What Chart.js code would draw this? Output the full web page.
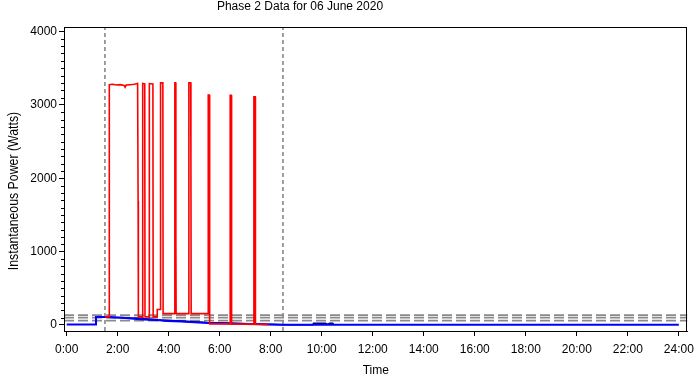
<!DOCTYPE html>
<html>
<head>
<meta charset="utf-8">
<script src="https://cdn.jsdelivr.net/npm/chart.js@4/dist/chart.umd.min.js"></script>
<style>
  html, body { margin: 0; padding: 0; background: #fff; }
  #wrap { width: 700px; height: 381px; }
</style>
</head>
<body>
<div id="wrap"><canvas id="powerChart"></canvas></div>
<script>
// time is in decimal hours, power in watts
const chartTitle = 'Phase 2 Data for 06 June 2020';
const xTicks = [0, 2, 4, 6, 8, 10, 12, 14, 16, 18, 20, 22, 24];
const yTicks = [0, 1000, 2000, 3000, 4000];

const redHours = [1.50, 1.67, 1.67, 1.80, 1.95, 2.10, 2.25, 2.29, 2.33, 2.50, 2.65, 2.78, 2.80, 2.81,
  2.98, 2.98, 3.06, 3.07, 3.24, 3.24, 3.38, 3.39, 3.55, 3.55, 3.68, 3.68, 3.77, 3.78,
  4.24, 4.24, 4.27, 4.28, 4.29, 4.79, 4.79, 4.86, 4.87, 4.88, 5.55, 5.55, 5.59, 5.60, 5.61,
  6.41, 6.41, 6.45, 6.46, 6.47, 7.34, 7.34, 7.39, 7.40, 7.92];
const redWatts = [110, 110, 3275, 3280, 3270, 3275, 3265, 3240, 3270, 3275, 3280, 3290, 1690, 110,
  110, 3290, 3285, 110, 110, 3290, 3285, 110, 110, 210, 210, 3300, 3300, 155,
  155, 3300, 3300, 1190, 155, 155, 3300, 3300, 2240, 155, 155, 3135, 3135, 850, 15,
  15, 3130, 3130, 2330, 12, 12, 3110, 3110, 10, 8];

const blueHours = [0, 1.15, 1.15, 1.60, 2.20, 2.74, 3.20, 3.65, 3.93, 4.50, 5.00, 5.53, 6.20, 7.00, 7.57, 8.10, 8.47, 24];
const blueWatts = [5, 5, 110, 108, 100, 80, 72, 64, 55, 48, 38, 27, 22, 15, 10, 6, 4, 4];

const navyHours = [1.50, 2.80, 3.70, 4.50, 5.50, 6.50, 7.50, 8.50, 9.65, 9.68, 10.15, 10.20, 10.25, 10.30, 10.43, 10.46];
const navyWatts = [106, 92, 66, 52, 33, 24, 12, 4, 4, 24, 24, 12, 10, 24, 24, 4];

const refLevels = [135, 100, 60];
const markHours = [1.50, 8.48];

const xMin = -0.106, xMax = 24.34;
const yMin = -82, yMax = 4061;

const font = "'Liberation Sans', Arial, sans-serif";

const toPoints = (xs, ys) => xs.map((x, i) => ({ x: x, y: ys[i] }));

const datasets = [
  { label: 'red', data: toPoints(redHours, redWatts), borderColor: '#ff0000', borderWidth: 1.6 },
  { label: 'blue', data: toPoints(blueHours, blueWatts), borderColor: '#0000ff', borderWidth: 2 },
  { label: 'navy', data: toPoints(navyHours, navyWatts), borderColor: '#000070', borderWidth: 1.6 }
];
refLevels.forEach(level => {
  datasets.push({
    label: 'ref ' + level,
    data: [{ x: xMin, y: level }, { x: xMax, y: level }],
    borderColor: '#8a8a8a', borderWidth: 1.6, borderDash: [10, 4]
  });
});
markHours.forEach(h => {
  datasets.push({
    label: 'mark ' + h,
    data: [{ x: h, y: yMin }, { x: h, y: yMax }],
    borderColor: '#404040', borderWidth: 1, borderDash: [4, 3]
  });
});
datasets.forEach(d => { d.pointRadius = 0; d.tension = 0; d.fill = false; });

// frame, minor y ticks and the text labels
const extras = {
  id: 'extras',
  afterDraw(chart) {
    const ctx = chart.ctx;
    const a = chart.chartArea;
    const y = chart.scales.y;
    ctx.save();
    ctx.strokeStyle = '#000';
    ctx.lineWidth = 1;
    ctx.strokeRect(Math.round(a.left) + 0.5, Math.round(a.top) + 0.5,
      Math.round(a.right - a.left) - 1, Math.round(a.bottom - a.top));
    ctx.beginPath();
    for (let v = 0; v <= 4000; v += 100) {
      if (v % 1000 === 0) continue;
      const py = Math.round(y.getPixelForValue(v)) + 0.5;
      ctx.moveTo(a.left - 3, py);
      ctx.lineTo(a.left, py);
    }
    ctx.stroke();

    ctx.fillStyle = '#000';
    ctx.textAlign = 'center';
    ctx.textBaseline = 'middle';
    ctx.font = '12px ' + font;
    ctx.fillText(chartTitle, 300, 7);

    ctx.translate(14, 191);
    ctx.rotate(-Math.PI / 2);
    ctx.scale(0.88, 1);
    ctx.font = '14px ' + font;
    ctx.fillText('Instantaneous Power (Watts)', 0, 0);
    ctx.restore();
  }
};

const ctx = document.getElementById('powerChart').getContext('2d');
const powerChart = new Chart(ctx, {
  type: 'line',
  data: { datasets: datasets },
  options: {
    responsive: true,
    maintainAspectRatio: false,
    devicePixelRatio: 1,
    animation: false,
    layout: { padding: { top: 27, right: 12, left: 0, bottom: 0 } },
    plugins: { legend: { display: false }, tooltip: { enabled: false } },
    scales: {
      x: {
        type: 'linear',
        min: xMin,
        max: xMax,
        afterBuildTicks: axis => { axis.ticks = xTicks.map(v => ({ value: v })); },
        afterFit: axis => { axis.height = 50; },
        ticks: {
          color: '#000',
          font: { family: font, size: 12 },
          padding: 6,
          maxRotation: 0,
          autoSkip: false,
          callback: v => v + ':00'
        },
        grid: { drawOnChartArea: false, tickLength: 5, tickColor: '#000' },
        border: { color: '#000' },
        title: { display: true, text: 'Time', color: '#000', font: { family: font, size: 12 }, padding: { top: 0, bottom: 3 } }
      },
      y: {
        min: yMin,
        max: yMax,
        afterBuildTicks: axis => { axis.ticks = yTicks.map(v => ({ value: v })); },
        afterFit: axis => { axis.width = 64; },
        ticks: { color: '#000', font: { family: font, size: 12 }, padding: 2, callback: v => String(v) },
        grid: { drawOnChartArea: false, tickLength: 5, tickColor: '#000' },
        border: { color: '#000' }
      }
    }
  },
  plugins: [extras]
});
</script>
</body>
</html>
